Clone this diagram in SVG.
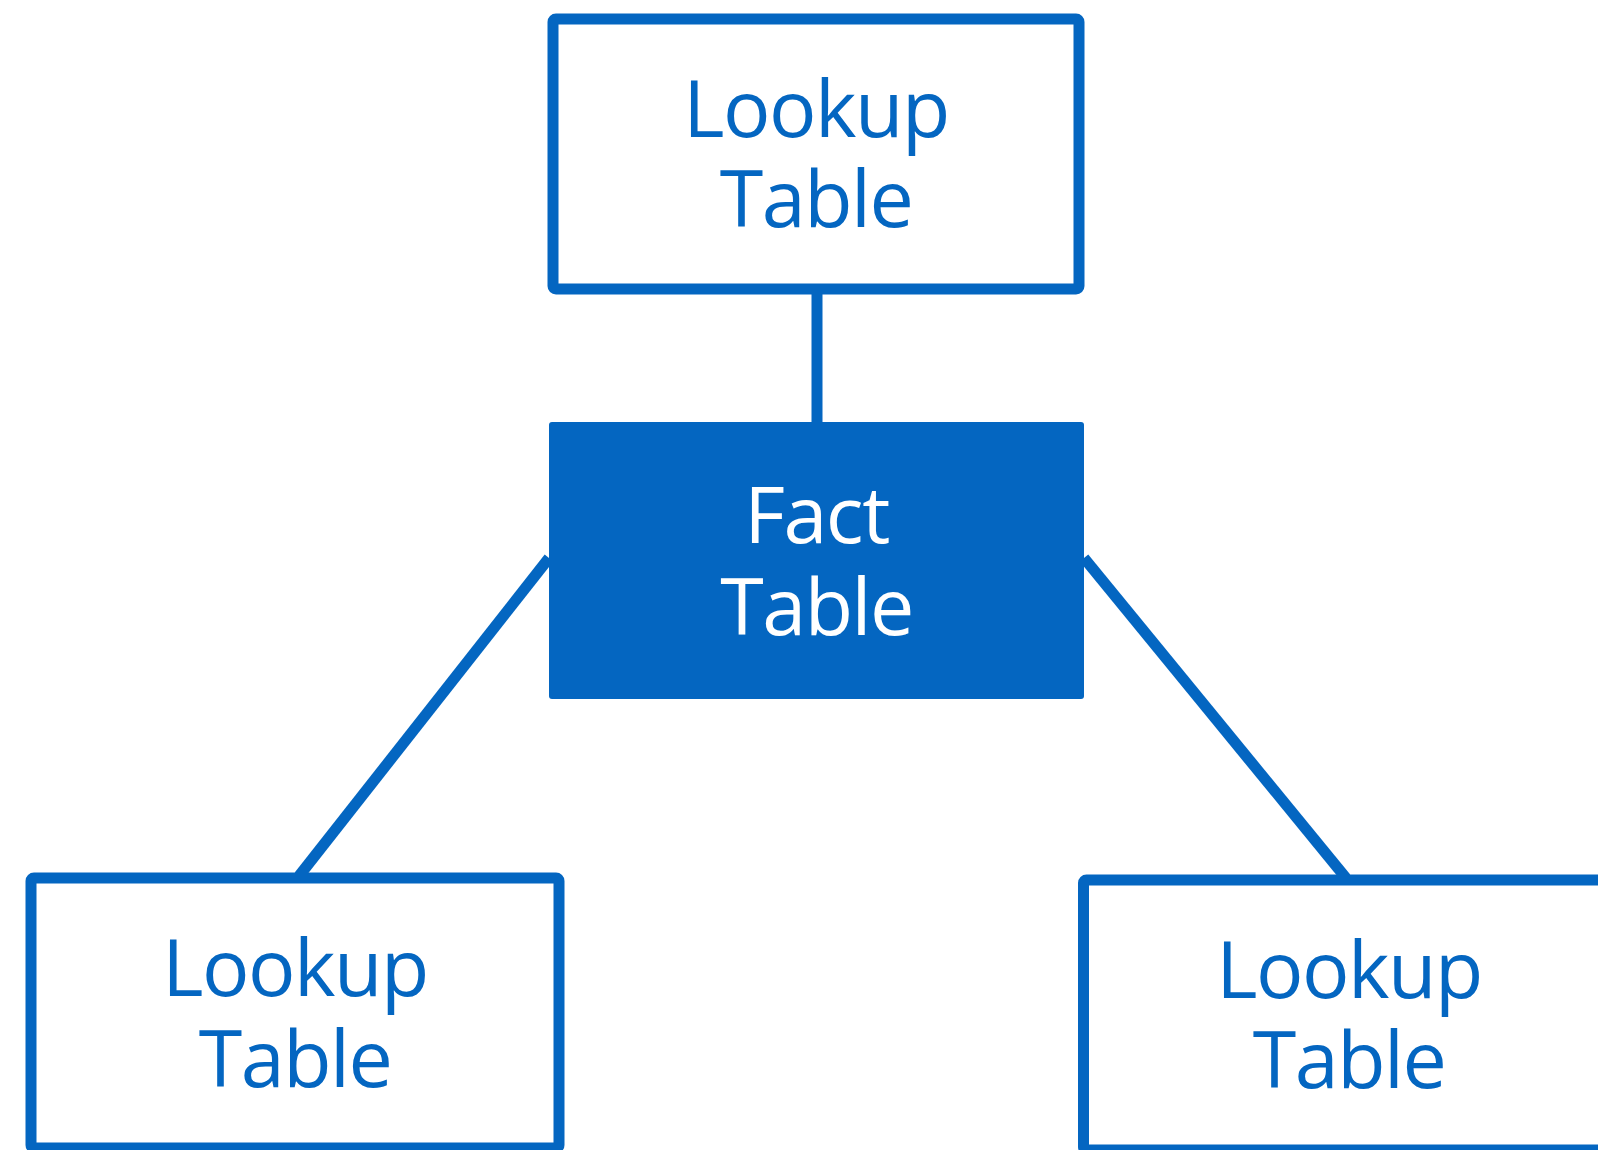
<svg xmlns="http://www.w3.org/2000/svg" width="1598" height="1150" viewBox="0 0 1598 1150">
<style>
.lk rect{fill:#fff;stroke:#0466C1;stroke-width:11}
.fact rect{fill:#0466C1}
text{font-family:"Open Sans","Noto Sans",sans-serif;font-size:79px;text-anchor:middle;letter-spacing:-1.5px}
.lk text{fill:#0466C1}
.fact text{fill:#fff}
.conn line{stroke:#0466C1;stroke-width:11;fill:none}
</style>
<rect width="1598" height="1150" fill="#fff"/>
<g id="connectors" class="conn">
<line x1="817" y1="294" x2="817" y2="424"/>
<line x1="549" y1="558" x2="299" y2="876"/>
<line x1="1084" y1="558" x2="1346" y2="878"/>
</g>
<g id="lookup-top" class="lk">
<rect x="553" y="19" width="526" height="270" rx="3"/>
<text x="816" y="136.5">Lookup</text>
<text x="816" y="227">Table</text>
</g>
<g id="fact" class="fact">
<rect x="549" y="422" width="535" height="277" rx="3"/>
<text x="816.5" y="543">Fact</text>
<text x="816.5" y="635">Table</text>
</g>
<g id="lookup-left" class="lk">
<rect x="31" y="878" width="528" height="270" rx="3"/>
<text x="295" y="996">Lookup</text>
<text x="295" y="1087">Table</text>
</g>
<g id="lookup-right" class="lk">
<rect x="1083.5" y="880" width="528" height="270" rx="3"/>
<text x="1349" y="997.5">Lookup</text>
<text x="1349" y="1088">Table</text>
</g>
</svg>
